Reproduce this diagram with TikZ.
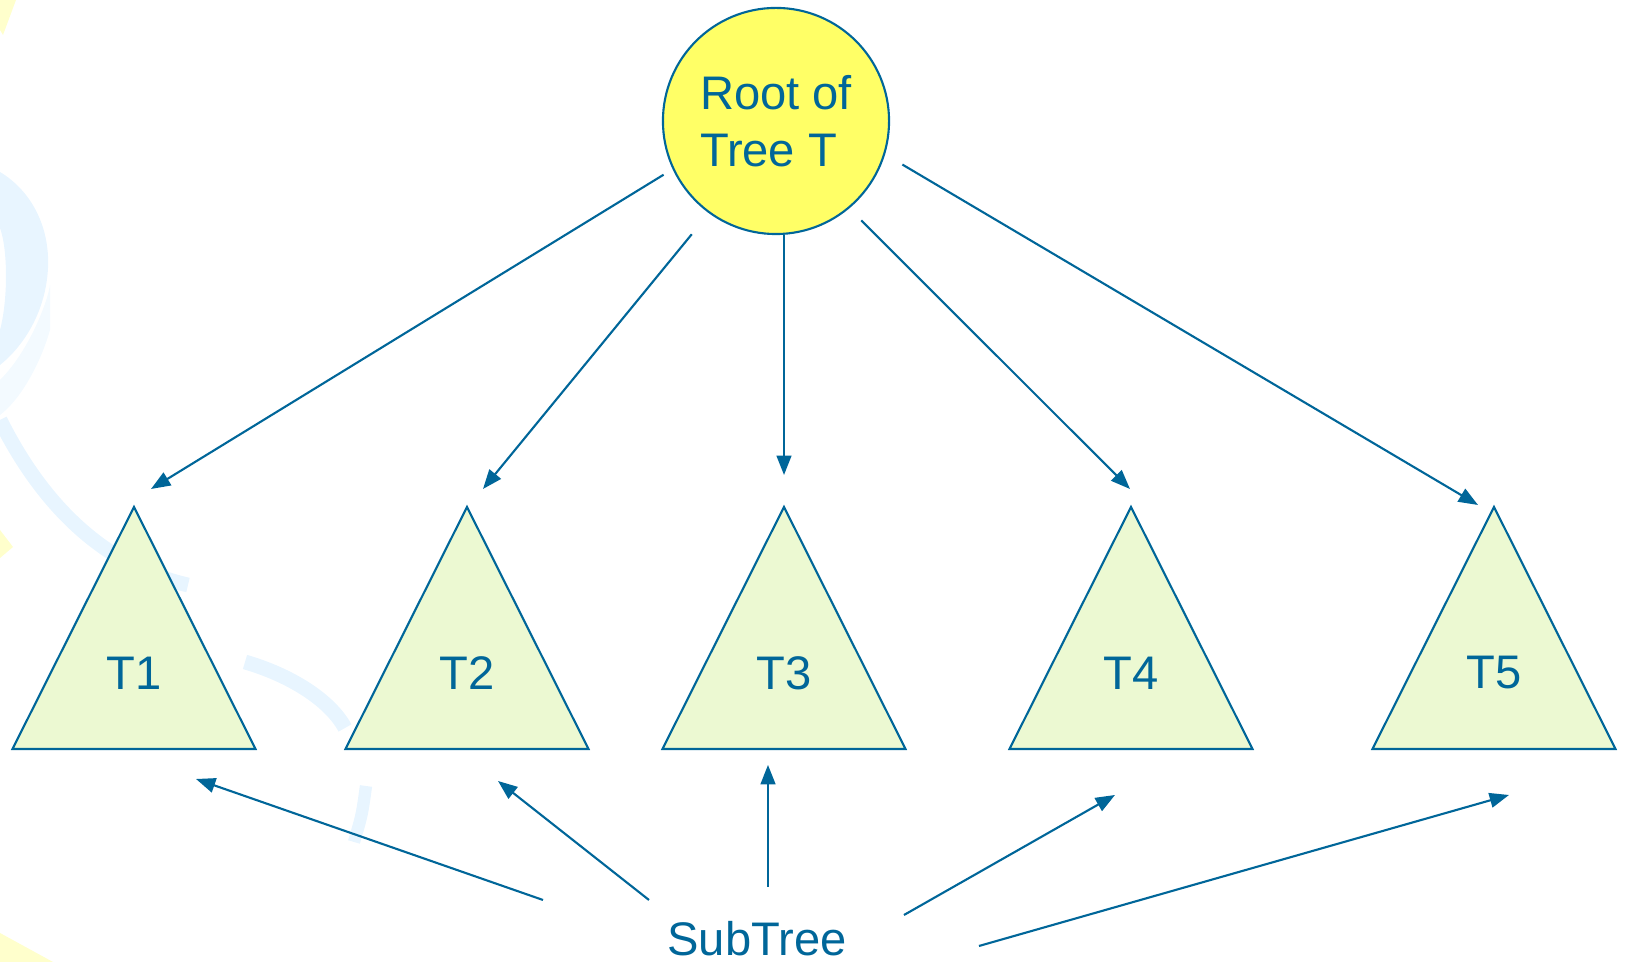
\documentclass[tikz,border=0pt]{standalone}
\usepackage{fontspec}
\setmainfont{Liberation Sans}
\usetikzlibrary{arrows.meta}
\definecolor{treeblue}{HTML}{006699}
\definecolor{rootyellow}{HTML}{FFFF66}
\definecolor{subgreen}{HTML}{ECF9D2}
\definecolor{swirlblue}{HTML}{E8F5FF}
\definecolor{swirlpale}{HTML}{F3FAFF}
\definecolor{swirlyellow}{HTML}{FFFFCC}

\begin{document}
\begin{tikzpicture}[x=0.01cm,y=-0.01cm,
    link/.style={draw=treeblue,line width=0.6pt,-{Triangle[length=5.5pt,width=4.2pt]}},
    bigtext/.style={text=treeblue,font=\fontsize{13.4}{16.2}\selectfont}]
  \useasboundingbox (0,0) rectangle (1626,962);

  % faint swirls of the slide background
  \fill[swirlyellow] (0,0) -- (16,0) -- (3,35) -- (0,30) -- cycle;
  \fill[swirlyellow] (0,530) -- (13,547) -- (0,558) -- cycle;
  \fill[swirlyellow] (0,933) -- (53,962) -- (0,962) -- cycle;
  \fill[swirlpale] (0,380) .. controls (30,350) and (48,300) .. (50,285)
    -- (50,330) .. controls (40,365) and (20,400) .. (0,415) -- cycle;
  \fill[swirlblue] (0,172) .. controls (30,190) and (50,225) .. (48,268)
    .. controls (46,310) and (25,345) .. (0,365)
    -- (0,330) .. controls (8,300) and (8,250) .. (0,228) -- cycle;
  \draw[swirlblue,line width=4.2pt] (0,420) .. controls (40,500) and (100,565) .. (188,585);
  \draw[swirlblue,line width=4.2pt] (245,662) .. controls (290,675) and (330,700) .. (345,728);
  \draw[swirlblue,line width=3.5pt] (366,786) .. controls (362,815) .. (354,842);

  % root of the tree
  \node[circle,draw=treeblue,line width=0.6pt,fill=rootyellow,minimum size=2.26cm,
        inner sep=0pt,align=left,bigtext] (root) at (776,121) {Root of\\Tree T};

  % the five subtrees
  \foreach \i/\x in {1/134,2/467,3/784,4/1131,5/1494} {
    \filldraw[draw=treeblue,fill=subgreen,line width=0.6pt]
      (\x,507) -- (\x-121.5,749) -- (\x+121.5,749) -- cycle;
    \node[bigtext] (t\i) at (\x,673) {T\i};
  }

  \node[bigtext,anchor=base] (sub) at (757,956) {SubTree};

  % arrow ends
  \foreach \i/\a/\b in {1/151/489,2/483/489,3/784/475,4/1130/489,5/1478/505}
    \coordinate (up\i) at (\a,\b);
  \foreach \i/\a/\b in {1/196/779,2/498/781,3/768/765,4/1115/795,5/1509/795}
    \coordinate (dn\i) at (\a,\b);
  \foreach \i/\a/\b in {1/543/900,2/649/900,3/768/887,4/904/915,5/979/946}
    \coordinate (from\i) at (\a,\b);

  % root to subtrees
  \foreach \i/\ang/\s in {1/205/3pt,2/234/7.7pt,4/310/4.8pt,5/343.5/5.7pt}
    \draw[link,shorten <=\s] (root.\ang) -- (up\i);
  \draw[link] (up3 |- root.south) -- (up3);

  % label to subtrees
  \foreach \i in {1,...,5}
    \draw[link] (from\i) -- (dn\i);
\end{tikzpicture}
\end{document}
